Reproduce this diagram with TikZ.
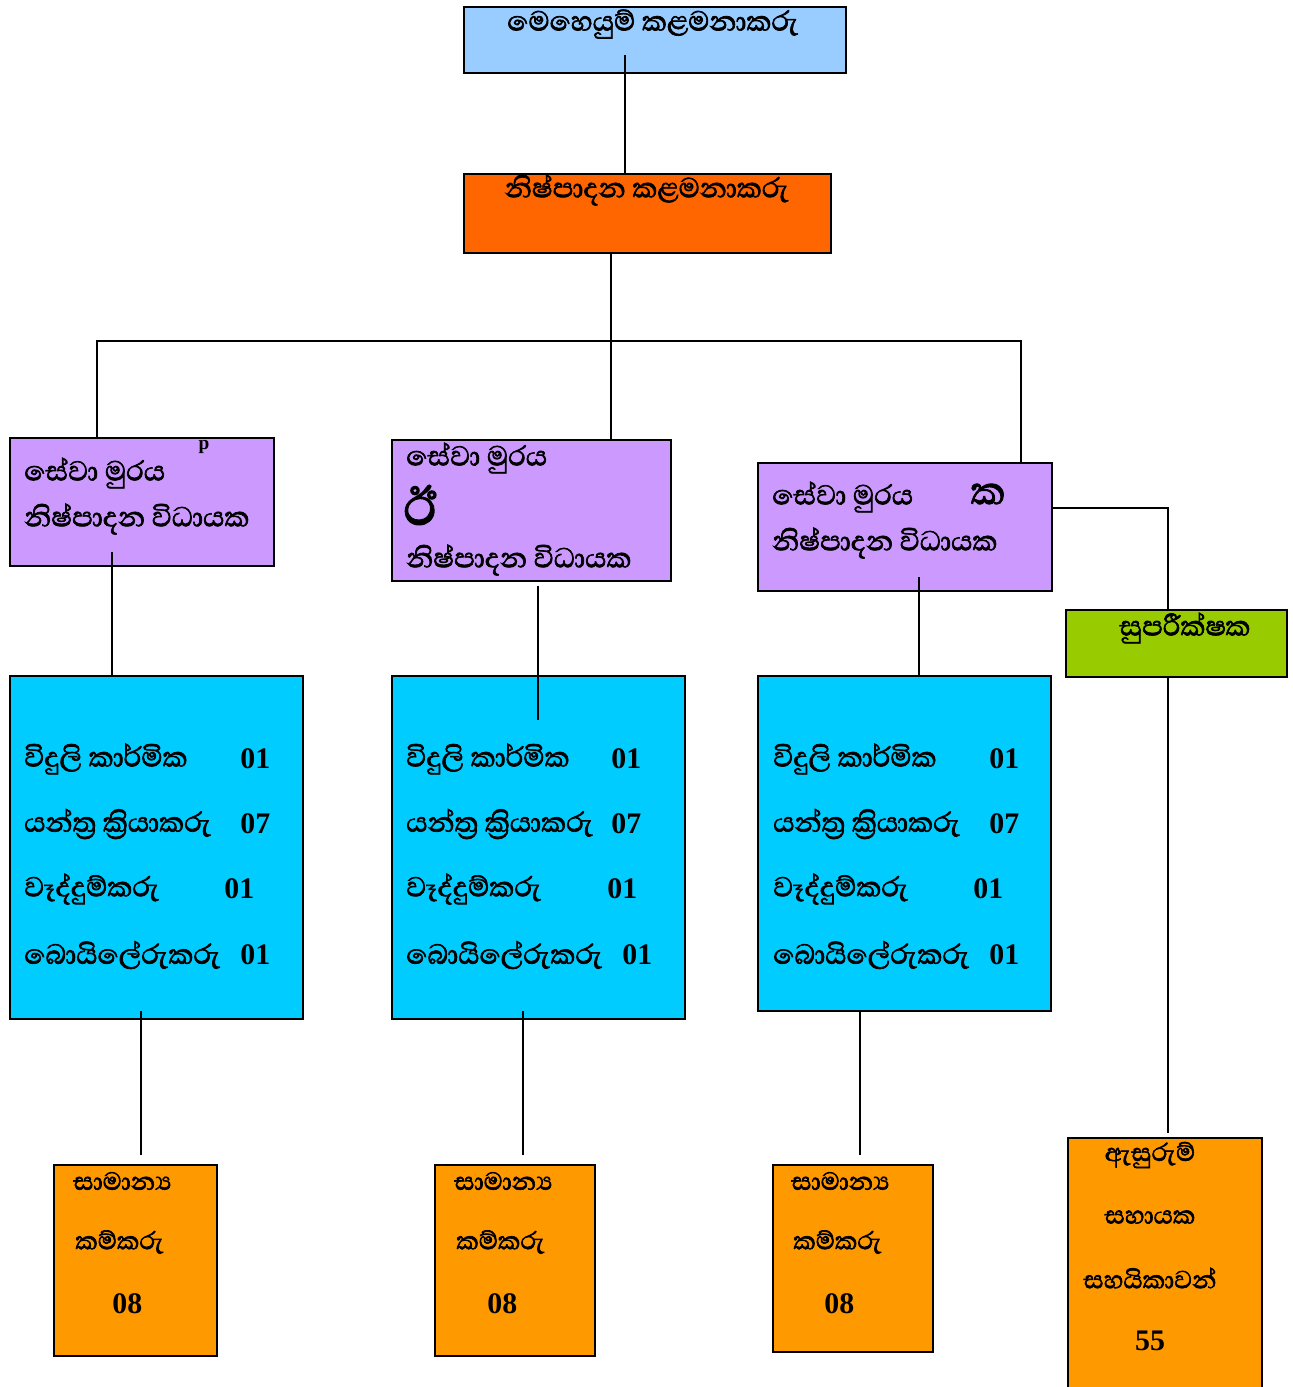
\documentclass[tikz,border=0pt]{standalone}
\usepackage{fontspec}
\setmainfont{Liberation Serif}
\newfontfamily\sinhala[Script=Sinhala,FakeBold=2]{Abhaya Libre}
\usetikzlibrary{fit}
\definecolor{headblue}{HTML}{99CCFF}
\definecolor{prodorange}{HTML}{FF6600}
\definecolor{shiftpurple}{HTML}{CC99FF}
\definecolor{crewcyan}{HTML}{00CCFF}
\definecolor{superlime}{HTML}{99CC00}
\definecolor{labourorange}{HTML}{FF9900}
\tikzstyle{box}=[draw=black,line width=1.1pt,inner sep=0pt]
\tikzstyle{si}=[anchor=west,inner sep=0pt,font=\sinhala\fontsize{20}{22}\selectfont]
\tikzstyle{sis}=[si,font=\sinhala\fontsize{18}{20}\selectfont]
\tikzstyle{num}=[anchor=west,inner sep=0pt,font=\bfseries\fontsize{17}{19}\selectfont]
\tikzstyle{link}=[line width=0.8pt]

\begin{document}
\begin{tikzpicture}[x=0.02cm,y=-0.02cm]
	\useasboundingbox (0,0) rectangle (1293,1387);
	%boxes
	\node[box,fill=headblue,fit={(464,7) (846,73)}] (ops) {};
	\node[box,fill=prodorange,fit={(464,174) (831,253)}] (prod) {};
	\node[box,fill=shiftpurple,fit={(10,438) (274,566)}] (shiftA) {};
	\node[box,fill=shiftpurple,fit={(392,440) (671,581)}] (shiftB) {};
	\node[box,fill=shiftpurple,fit={(758,463) (1052,591)}] (shiftC) {};
	\node[box,fill=superlime,fit={(1066,610) (1287,677)}] (super) {};
	\node[box,fill=crewcyan,fit={(10,676) (303,1019)}] (crewA) {};
	\node[box,fill=crewcyan,fit={(392,676) (685,1019)}] (crewB) {};
	\node[box,fill=crewcyan,fit={(758,676) (1051,1011)}] (crewC) {};
	\node[box,fill=labourorange,fit={(54,1165) (217,1356)}] (labA) {};
	\node[box,fill=labourorange,fit={(435,1165) (595,1356)}] (labB) {};
	\node[box,fill=labourorange,fit={(773,1165) (933,1352)}] (labC) {};
	\node[box,fill=labourorange,fit={(1068,1138) (1262,1400)}] (pack) {};
	%lines
	\coordinate (c1) at (625,55);
	\coordinate (trunk) at (611,341);
	\coordinate (lb) at (97,341);
	\coordinate (rb) at (1021,341);
	\coordinate (a1) at (112,552);
	\coordinate (b1) at (538,586);
	\coordinate (b2) at (538,720);
	\coordinate (k1) at (919,577);
	\coordinate (s1) at (1168,508);
	\coordinate (p1) at (1168,1133);
	\draw[link] (c1) -- (c1 |- prod.north);
	\draw[link] (trunk |- prod.south) -- (trunk |- shiftB.north);
	\draw[link] (lb |- shiftA.north) -- (lb) -- (rb) -- (rb |- shiftC.north);
	\draw[link] (a1) -- (a1 |- crewA.north);
	\draw[link] (b1) -- (b2);
	\draw[link] (k1) -- (k1 |- crewC.north);
	\draw[link] (s1 -| shiftC.east) -- (s1) -- (s1 |- super.north);
	\draw[link] (s1 |- super.south) -- (p1);
	\foreach \lx in {141,523,860}
	\draw[link] (\lx,1011) coordinate (d\lx) -- (\lx,1155) coordinate (e\lx);
	%labels
	\node[si,anchor=center] (opsT) at (653,24) {මෙහෙයුම් කළමනාකරු};
	\node[si,anchor=center] (prodT) at (647,190) {නිෂ්පාදන කළමනාකරු};
	\node[si] (shAT) at (24,473) {සේවා මුරය};
	\node[si] (shAB) at (24,519) {නිෂ්පාදන විධායක};
	\node[inner sep=0pt,font=\bfseries\fontsize{11}{11}\selectfont] (shAM) at (204,447) {p};
	\node[si] (shBT) at (406,458) {සේවා මුරය};
	\node[si,font=\sinhala\fontsize{38}{40}\selectfont] (shBM) at (403,505) {ඊ};
	\node[si] (shBB) at (406,560) {නිෂ්පාදන විධායක};
	\node[si] (shCT) at (772,497) {සේවා මුරය};
	\node[si,anchor=center,font=\sinhala\fontsize{28}{30}\selectfont] (shCM) at (988,494) {ක};
	\node[si] (shCB) at (772,543) {නිෂ්පාදන විධායක};
	\node[si,anchor=center] (supT) at (1185,628) {සුපරීක්ෂක};
	%crews
	\foreach \bx/\na/\nb/\nc/\nd in {24/240/240/224/240, 406/611/611/607/622, 773/989/989/973/989}{
		\node[si] (el\bx) at (\bx,759) {විදුලි කාර්මික};
		\node[si] (mc\bx) at (\bx,824) {යන්ත්‍ර ක්‍රියාකරු};
		\node[si] (wd\bx) at (\bx,889) {වෑද්දුම්කරු};
		\node[si] (bl\bx) at (\bx,955) {බොයිලේරුකරු};
		\node[num] (elN\bx) at (\na,759) {01};
		\node[num] (mcN\bx) at (\nb,824) {07};
		\node[num] (wdN\bx) at (\nc,889) {01};
		\node[num] (blN\bx) at (\nd,955) {01};
	}
	\foreach \lx/\nx in {73/112, 454/487, 791/824}{
		\node[sis] (gn\lx) at (\lx,1181) {සාමාන්‍ය};
		\node[sis] (wk\lx) at (\lx+2,1242) {කම්කරු};
		\node[num] (wkN\lx) at (\nx,1304) {08};
	}
	\node[sis,anchor=center] (pk1) at (1150,1155) {ඇසුරුම්};
	\node[sis,anchor=center] (pk2) at (1150,1217) {සහායක};
	\node[sis,anchor=center] (pk3) at (1150,1278) {සහයිකාවන්};
	\node[num,anchor=center] (pkN) at (1150,1341) {55};
\end{tikzpicture}
\end{document}
